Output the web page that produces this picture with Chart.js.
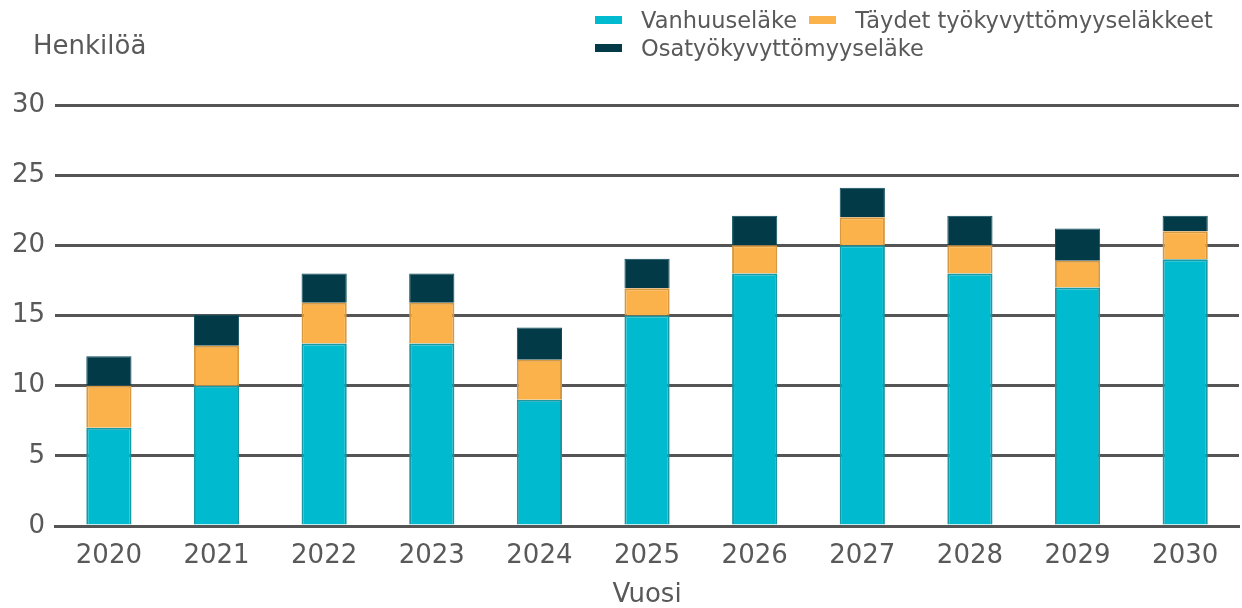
<!DOCTYPE html>
<html>
<head>
<meta charset="utf-8">
<script src="https://cdn.jsdelivr.net/npm/chart.js@4"></script>
<style>
  body{margin:0;background:#fff;font-family:"DejaVu Sans",sans-serif;}
  #wrap{position:relative;width:1242px;height:608px;}
  #legend{position:absolute;left:595px;top:6px;width:640px;display:flex;flex-wrap:wrap;font-size:22.5px;color:#595959;}
  #legend .item{display:flex;align-items:center;margin-right:12px;height:28px;}
  #legend .box{width:27px;height:8px;margin-right:19px;}
</style>
</head>
<body>
<div id="wrap">
  <canvas id="chart" width="1242" height="608"></canvas>
  <div id="legend"></div>
</div>
<script>
// data
var years=['2020','2021','2022','2023','2024','2025','2026','2027','2028','2029','2030']
var vanhuus=[7,10,13,13,9,15,18,20,18,17,19]
var taydet=[3,2.85,2.9,2.9,2.85,1.95,2,2,2,1.9,2]
var osa=[2.1,2.2,2.1,2.1,2.3,2.1,2.1,2.1,2.1,2.3,1.1]
var seriesNames=['Vanhuuseläke','Täydet työkyvyttömyyseläkkeet','Osatyökyvyttömyyseläke']

var textColor='#595959'
var gridColor='#555555'

//Y title plugin
var yTitle={
    id:'yTitle',
    afterDraw:function(chart){
        var ctx=chart.ctx
        ctx.save()
        ctx.font='26px "DejaVu Sans"'
        ctx.fillStyle=textColor
        ctx.textBaseline='middle'
        ctx.fillText('Henkilöä',33,47)
        ctx.restore()
    }
}

var ctx=document.getElementById('chart')
var chart=new Chart(ctx,{
    type:'bar',
    data:{
        labels:years,
        datasets:[{
            label:seriesNames[0],
            data:vanhuus,
            backgroundColor:'#00BBCF',
            borderColor:'#1799A6',
            borderWidth:2
        },{
            label:seriesNames[1],
            data:taydet,
            backgroundColor:'#FBB24A',
            borderColor:'#D8983E',
            borderWidth:2
        },{
            label:seriesNames[2],
            data:osa,
            backgroundColor:'#023A48',
            borderColor:'#0B4D5C',
            borderWidth:1
        }]
    },
    options:{
        responsive:false,
        animation:false,
        layout:{padding:{left:2,right:3,top:105,bottom:0}},
        datasets:{bar:{categoryPercentage:1,barPercentage:0.42}},
        plugins:{
            legend:{display:false},
            tooltip:{enabled:false}
        },
        scales:{
            x:{
                stacked:true,
                grid:{display:false},
                border:{display:true,color:gridColor,width:3},
                ticks:{color:textColor,font:{family:'DejaVu Sans',size:26,lineHeight:1},padding:9},
                title:{display:true,text:'Vuosi',color:textColor,font:{family:'DejaVu Sans',size:26,lineHeight:1},padding:{top:4,bottom:0}}
            },
            y:{
                stacked:true,
                min:0,max:30,
                ticks:{stepSize:5,color:textColor,font:{family:'DejaVu Sans',size:26},padding:10},
                grid:{color:gridColor,lineWidth:3,drawTicks:false},
                border:{display:false}
            }
        }
    },
    plugins:[yTitle]
})

//Legend
var legend=document.getElementById('legend')
chart.data.datasets.forEach(function(ds){
    var item=document.createElement('div')
    item.className='item'
    var box=document.createElement('span')
    box.className='box'
    box.style.background=ds.backgroundColor
    item.appendChild(box)
    item.appendChild(document.createTextNode(ds.label))
    legend.appendChild(item)
})
</script>
</body>
</html>
